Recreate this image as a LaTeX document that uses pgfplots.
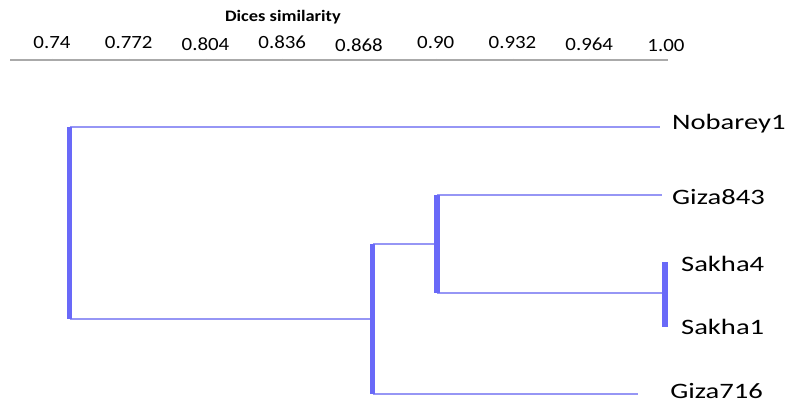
\documentclass[border=0pt]{standalone}
\usepackage{pgfplots}
\pgfplotsset{compat=1.18}
\usepackage{pgfplotstable}
\usepackage{graphicx}
\usepackage{fontspec}
\setmainfont{Carlito}

\definecolor{branchH}{RGB}{150,150,245}
\definecolor{branchV}{RGB}{105,105,248}
\definecolor{axisgrey}{RGB}{170,170,170}

% dendrogram branches: x = Dice similarity, y = vertical leaf position
\pgfplotstableread{
x        y
0.7476   127
0.9975   127
}\hNobarey
\pgfplotstableread{
x        y
0.7476   319
0.8759   319
}\hRootLow
\pgfplotstableread{
x        y
0.8759   244
0.9030   244
}\hMid
\pgfplotstableread{
x        y
0.9030   195
0.9983   195
}\hGizaA
\pgfplotstableread{
x        y
0.9030   293
0.9996   293
}\hSakha
\pgfplotstableread{
x        y
0.8759   394
0.9881   394
}\hGizaB

\newcommand{\leaf}[1]{\fontsize{16.5}{18}\selectfont\scalebox{1.3}[1]{#1}}
\newcommand{\tl}[1]{\fontsize{14}{16}\selectfont\scalebox{1.12}[1]{#1}}
\newcommand{\low}[2]{\raisebox{-#1}[\height][0pt]{#2}}

\begin{document}
\begin{tikzpicture}
\begin{axis}[
  scale only axis,
  width=493.5pt, height=258pt,
  xmin=0.72222, xmax=1.00085,
  ymin=60, ymax=404, y dir=reverse,
  axis x line*=top, axis y line=none,
  axis line style={axisgrey, line width=1.6pt},
  xtick={0.74,0.7725,0.805,0.8375,0.87,0.9025,0.935,0.9675,1.0},
  xticklabels={\tl{0.74},\tl{0.772},\low{1.5pt}{\tl{0.804}},\tl{0.836},\low{2pt}{\tl{0.868}},\tl{0.90},\tl{0.932},\low{1.5pt}{\tl{0.964}},\low{2pt}{\tl{1.00}}},
  xticklabel style={yshift=4pt},
  major tick length=1.6pt,
  tick align=center,
  tick style={draw=gray!70!black, line width=1.6pt},
  ytick=\empty,
  clip=false,
]
  % horizontal branches
  \addplot[branchH, line width=1.5pt] table[x=x,y=y] {\hNobarey};
  \addplot[branchH, line width=1.5pt] table[x=x,y=y] {\hRootLow};
  \addplot[branchH, line width=1.5pt] table[x=x,y=y] {\hMid};
  \addplot[branchH, line width=1.5pt] table[x=x,y=y] {\hGizaA};
  \addplot[branchH, line width=1.5pt] table[x=x,y=y] {\hSakha};
  \addplot[branchH, line width=1.5pt] table[x=x,y=y] {\hGizaB};
  % vertical joins
  \addplot[branchV, line width=3.8pt] coordinates {(0.7476,127) (0.7476,319)};
  \addplot[branchV, line width=3.8pt] coordinates {(0.8759,244) (0.8759,394)};
  \addplot[branchV, line width=4.2pt] coordinates {(0.9030,195) (0.9030,293)};
  \addplot[branchV, line width=4.8pt] coordinates {(0.9996,262) (0.9996,327)};

  % leaf names
  \node[anchor=west, inner sep=0pt] at (axis cs:1.0025,124) {\leaf{Nobarey1}};
  \node[anchor=west, inner sep=0pt] at (axis cs:1.0025,197) {\leaf{Giza843}};
  \node[anchor=west, inner sep=0pt] at (axis cs:1.0063,264) {\leaf{Sakha4}};
  \node[anchor=west, inner sep=0pt] at (axis cs:1.0063,327) {\leaf{Sakha1}};
  \node[anchor=west, inner sep=0pt] at (axis cs:1.0017,391) {\leaf{Giza716}};

  % scale title
  \node at (axis cs:0.8378,17) {\fontsize{12}{14}\selectfont\bfseries\scalebox{1.15}[1]{Dices similarity}};

  \coordinate (bl) at (axis cs:0.71798,404);
  \coordinate (tr) at (axis cs:1.05124,0);
\end{axis}
\pgfresetboundingbox
\path[use as bounding box] (bl) rectangle (tr);
\end{tikzpicture}
\end{document}
